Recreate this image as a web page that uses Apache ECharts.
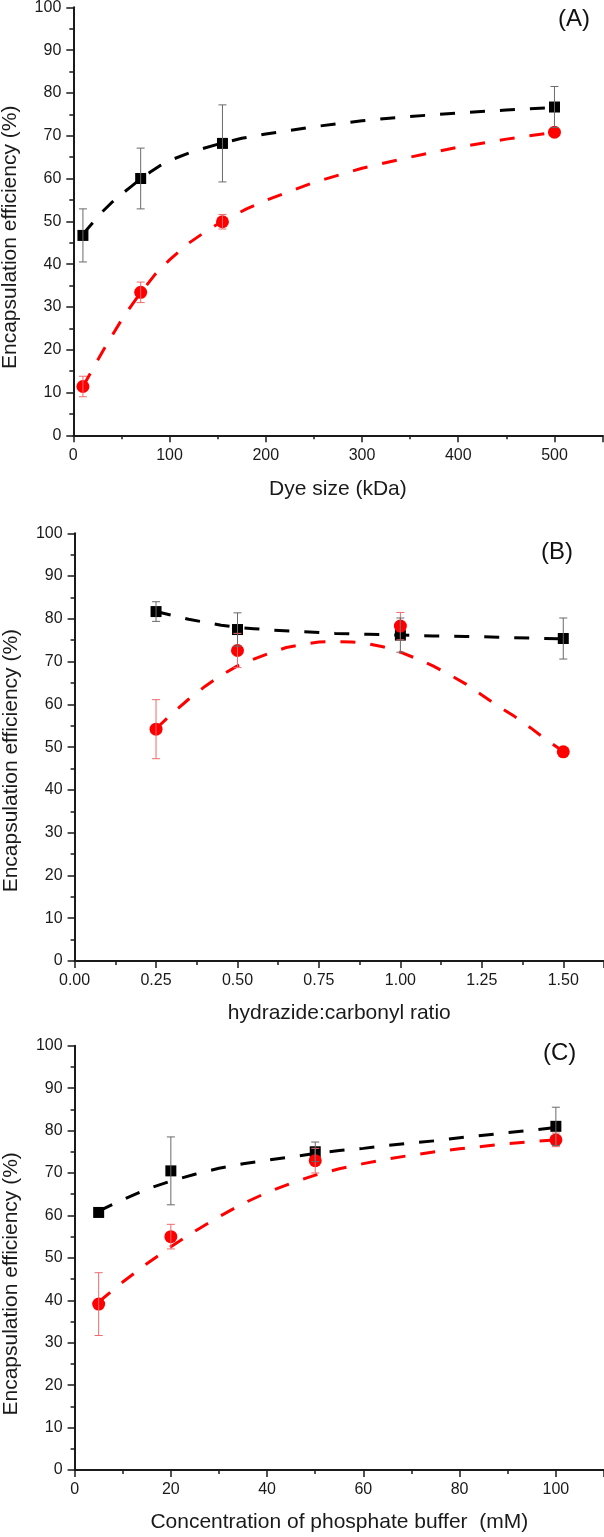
<!DOCTYPE html>
<html>
<head>
<meta charset="utf-8">
<script src="https://cdn.jsdelivr.net/npm/echarts@6/dist/echarts.min.js"></script>
<style>
html,body{margin:0;padding:0;background:#fff;}
#chart{width:604px;height:1537px;}
</style>
</head>
<body>
<div id="chart"></div>
<script>
// ---------- Panel A: dye size ----------
const aX = [10, 70, 155, 500];
const aBlackY = [46.7, 60.0, 68.2, 76.7];
const aBlackErr = [6.2, 7.1, 9.0, 4.8];
const aRedY = [11.4, 33.4, 49.9, 70.8];
const aRedErr = [2.4, 2.4, 1.7, 0];
const aBlackFitX = [10, 20, 30, 40, 50, 60, 70, 80, 90, 100, 125, 150, 175, 200, 250, 300, 350, 400, 450, 500];
const aBlackFitY = [47.0, 49.6, 52.2, 54.4, 56.3, 58.1, 59.9, 61.5, 63.0, 64.2, 66.4, 68.0, 69.4, 70.4, 72.1, 73.5, 74.5, 75.3, 76.0, 76.6];
const aRedFitX = [10, 20, 30, 40, 50, 60, 70, 85, 100, 120, 140, 155, 180, 200, 250, 300, 350, 400, 450, 500];
const aRedFitY = [11.4, 15.4, 19.4, 23.2, 26.9, 30.2, 33.3, 37.6, 41.0, 44.9, 48.0, 50.0, 52.9, 54.9, 59.1, 62.4, 65.0, 67.3, 69.2, 70.8];

// ---------- Panel B: hydrazide:carbonyl ratio ----------
const bX = [0.25, 0.5, 1.0, 1.5];
const bBlackY = [81.7, 77.5, 76.2, 75.4];
const bBlackErr = [2.3, 3.9, 4.0, 4.8];
const bRedY = [54.2, 72.6, 78.3, 48.9];
const bRedErr = [6.9, 4.0, 3.2, 0];
const bBlackFitX = [0.25, 0.30, 0.35, 0.40, 0.45, 0.50, 0.55, 0.60, 0.70, 0.80, 0.90, 1.00, 1.10, 1.20, 1.30, 1.40, 1.50];
const bBlackFitY = [81.7, 80.8, 79.9, 79.2, 78.5, 78.0, 77.7, 77.4, 77.0, 76.6, 76.4, 76.2, 76.0, 75.9, 75.7, 75.5, 75.3];
const bRedFitX = [0.25, 0.30, 0.35, 0.40, 0.45, 0.50, 0.55, 0.60, 0.65, 0.70, 0.75, 0.80, 0.85, 0.90, 0.95, 1.00, 1.05, 1.10, 1.15, 1.20, 1.25, 1.30, 1.35, 1.40, 1.45, 1.50];
const bRedFitY = [54.3, 57.9, 61.2, 64.2, 66.8, 69.0, 70.6, 72.0, 73.3, 74.0, 74.6, 74.7, 74.6, 74.2, 73.4, 72.2, 70.7, 69.0, 67.0, 64.8, 62.2, 59.6, 57.2, 54.5, 51.6, 49.0];

// ---------- Panel C: phosphate buffer ----------
const cX = [5, 20, 50, 100];
const cBlackY = [60.7, 70.5, 75.0, 81.0];
const cBlackErr = [0, 8.0, 2.3, 4.5];
const cRedY = [39.1, 55.0, 72.9, 77.8];
const cRedErr = [7.4, 2.9, 2.9, 1.6];
const cBlackFitX = [5, 10, 15, 20, 25, 30, 35, 40, 45, 50, 55, 60, 65, 70, 75, 80, 85, 90, 95, 100];
const cBlackFitY = [61.0, 63.7, 66.2, 68.1, 69.7, 71.1, 72.2, 73.0, 73.8, 74.6, 75.3, 75.8, 76.5, 77.1, 77.6, 78.3, 78.9, 79.5, 80.1, 80.7];
const cRedFitX = [5, 10, 15, 20, 25, 30, 35, 40, 45, 50, 55, 60, 65, 70, 75, 80, 85, 90, 95, 100];
const cRedFitY = [39.6, 44.3, 48.6, 52.6, 56.3, 59.7, 62.8, 65.4, 67.6, 69.5, 71.0, 72.2, 73.3, 74.2, 75.0, 75.7, 76.3, 76.9, 77.4, 77.8];

// ---------- tick labels / titles ----------
const yTitle = 'Encapsulation efficiency (%)';
const xTitles = ['Dye size (kDa)', 'hydrazide:carbonyl ratio', 'Concentration of phosphate buffer  (mM)'];
const panelLabels = ['(A)', '(B)', '(C)'];

const FONT = '"Liberation Sans", Arial, sans-serif';
const AXC = '#1a1a1a';
const RED = '#ff0000';

const zip = (xs, ys) => xs.map((x, i) => [x, ys[i]]);

function errBars(idx, xs, ys, errs, color, z) {
  return {
    type: 'custom', xAxisIndex: idx, yAxisIndex: idx, z: z, silent: true,
    encode: { x: 0, y: [1, 2] },
    data: xs.map((x, i) => [x, ys[i] - errs[i], ys[i] + errs[i]]),
    renderItem: function (params, api) {
      const x = api.value(0);
      const lo = api.coord([x, api.value(1)]);
      const hi = api.coord([x, api.value(2)]);
      if (Math.abs(lo[1] - hi[1]) < 0.5) return { type: 'group', children: [] };
      const hw = 4;
      const st = { stroke: color, lineWidth: 1 };
      return {
        type: 'group',
        children: [
          { type: 'line', shape: { x1: lo[0], y1: lo[1], x2: hi[0], y2: hi[1] }, style: st },
          { type: 'line', shape: { x1: lo[0] - hw, y1: lo[1], x2: lo[0] + hw, y2: lo[1] }, style: st },
          { type: 'line', shape: { x1: hi[0] - hw, y1: hi[1], x2: hi[0] + hw, y2: hi[1] }, style: st }
        ]
      };
    }
  };
}

function fitLine(idx, xs, ys, color) {
  return {
    type: 'line', xAxisIndex: idx, yAxisIndex: idx, z: 2, silent: true,
    data: zip(xs, ys), showSymbol: false, smooth: false,
    lineStyle: { color: color, width: 3, type: [15, 15], join: 'round' }
  };
}

function points(idx, xs, ys, color, symbol, size, z) {
  return {
    type: 'scatter', xAxisIndex: idx, yAxisIndex: idx, z: z, silent: true,
    data: zip(xs, ys), symbol: symbol, symbolSize: size,
    itemStyle: { color: color, opacity: 1 }
  };
}

const grids = [
  { left: 73.3, right: 1.4, top: 7.3, height: 428, outerBoundsMode: 'none', containLabel: false },
  { left: 74.6, right: 0, top: 533.3, height: 427.7, outerBoundsMode: 'none', containLabel: false },
  { left: 74.6, right: 0, top: 1045.7, height: 424.3, outerBoundsMode: 'none', containLabel: false }
];

const xDefs = [
  { max: 550, interval: 100, fmt: v => String(v), gap: 43 },
  { max: 1.625, interval: 0.25, fmt: v => v.toFixed(2), gap: 42 },
  { max: 110, interval: 20, fmt: v => String(v), gap: 42 }
];
const yShift = [32, 27, 52];

const axisLineStyle = { show: true, lineStyle: { color: AXC, width: 2 } };

const xAxes = xDefs.map((d, i) => ({
  type: 'value', gridIndex: i, min: 0, max: d.max, interval: d.interval,
  name: xTitles[i], nameLocation: 'middle', nameGap: d.gap,
  nameTextStyle: { fontFamily: FONT, fontSize: 21, color: '#1a1a1a' },
  axisLine: axisLineStyle,
  axisTick: { show: true, inside: false, length: 7, lineStyle: { color: AXC, width: 1.5 } },
  minorTick: { show: true, splitNumber: 2, length: 4, lineStyle: { color: AXC, width: 1.5 } },
  axisLabel: { show: true, margin: 12, fontFamily: FONT, fontSize: 16, color: '#1a1a1a', formatter: d.fmt, showMaxLabel: false },
  splitLine: { show: false }
}));

const yAxes = [0, 1, 2].map(i => ({
  type: 'value', gridIndex: i, min: 0, max: 100, interval: 10,
  name: yTitle, nameLocation: 'middle', nameGap: 53,
  nameTextStyle: { fontFamily: FONT, fontSize: 21, color: '#1a1a1a', padding: [0, yShift[i], 0, 0] },
  axisLine: axisLineStyle,
  axisTick: { show: true, inside: false, length: 7, lineStyle: { color: AXC, width: 1.5 } },
  minorTick: { show: true, splitNumber: 2, length: 4, lineStyle: { color: AXC, width: 1.5 } },
  axisLabel: { show: true, margin: 12, fontFamily: FONT, fontSize: 16, color: '#1a1a1a' },
  splitLine: { show: false }
}));

const titlePos = [[558, 7], [541, 540], [543, 1041]];
const titles = panelLabels.map((t, i) => ({
  text: t, left: titlePos[i][0], top: titlePos[i][1], padding: 0,
  textStyle: { fontFamily: FONT, fontSize: 24, fontWeight: 'normal', color: '#111' }
}));

const panels = [
  { x: aX, by: aBlackY, be: aBlackErr, ry: aRedY, re: aRedErr, bfx: aBlackFitX, bfy: aBlackFitY, rfx: aRedFitX, rfy: aRedFitY },
  { x: bX, by: bBlackY, be: bBlackErr, ry: bRedY, re: bRedErr, bfx: bBlackFitX, bfy: bBlackFitY, rfx: bRedFitX, rfy: bRedFitY },
  { x: cX, by: cBlackY, be: cBlackErr, ry: cRedY, re: cRedErr, bfx: cBlackFitX, bfy: cBlackFitY, rfx: cRedFitX, rfy: cRedFitY }
];

const series = [];
panels.forEach((p, i) => {
  series.push(fitLine(i, p.bfx, p.bfy, '#000'));
  series.push(fitLine(i, p.rfx, p.rfy, RED));
  series.push(points(i, p.x, p.by, '#000', 'rect', 11, 3));
  series.push(points(i, p.x, p.ry, RED, 'circle', 13, 4));
  series.push(errBars(i, p.x, p.ry, p.re, '#f06a6a', 5));
  series.push(errBars(i, p.x, p.by, p.be, '#6a6a6a', 6));
});

const chart = echarts.init(document.getElementById('chart'), null, { renderer: 'canvas' });
chart.setOption({
  animation: false,
  backgroundColor: '#fff',
  title: titles,
  grid: grids,
  xAxis: xAxes,
  yAxis: yAxes,
  series: series
});
</script>
</body>
</html>
